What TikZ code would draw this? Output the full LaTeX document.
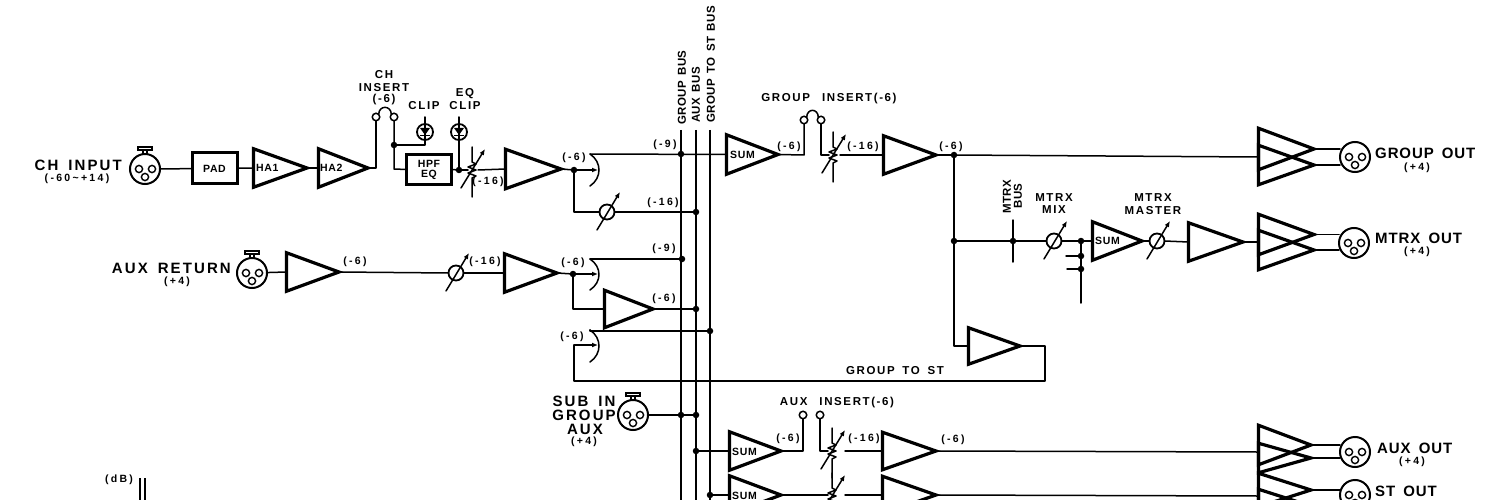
\documentclass[tikz,border=0pt]{standalone}
\usepackage{fontspec}
\setmainfont{Liberation Sans}[LetterSpace=14,WordSpace=1.6]
\usetikzlibrary{shapes.geometric,arrows.meta}
\newcommand\fa{\fontsize{15}{16}\selectfont\bfseries}
\newcommand\fo{\fontsize{15}{16}\selectfont\bfseries\addfontfeature{LetterSpace=6}}
\newcommand\fb{\fontsize{11.5}{12}\selectfont\bfseries}
\newcommand\fr{\fontsize{11.5}{12}\selectfont\bfseries\addfontfeature{LetterSpace=3}}
\newcommand\fc{\fontsize{10.5}{11}\selectfont\bfseries\addfontfeature{LetterSpace=22}}
\newcommand\fd{\fontsize{10.5}{11}\selectfont\bfseries\addfontfeature{LetterSpace=6}}
\tikzset{
 x=1pt,y=-1pt,
 wire/.style={line width=1.5pt,line cap=round,line join=round},
 bus/.style={line width=2pt},
 ampn/.style={draw,line width=3.2pt,isosceles triangle,isosceles triangle stretches,inner sep=0pt,outer sep=0pt,anchor=lower side,miter limit=6},
 boxn/.style={draw,line width=3pt,rectangle,inner sep=0pt,outer sep=0pt},
 jn/.style={circle,fill=black,inner sep=0pt,outer sep=0pt,minimum size=6.5pt},
 jackn/.style={circle,draw,line width=1.5pt,fill=white,inner sep=0pt,outer sep=0pt,minimum size=7.5pt},
 fadn/.style={circle,draw,line width=1.8pt,inner sep=0pt,outer sep=0pt,minimum size=15pt},
 xlrn/.style={circle,draw,line width=2pt,inner sep=0pt,outer sep=0pt,minimum size=30pt},
 ledn/.style={circle,draw,line width=1.8pt,inner sep=0pt,outer sep=0pt,minimum size=16pt},
 big/.style={font=\fa,inner sep=0pt,align=center},
 outlab/.style={font=\fo,inner sep=0pt,align=center},
 mid/.style={font=\fb,inner sep=0pt,align=center},
 rotlab/.style={font=\fr,inner sep=0pt,align=center,rotate=90},
 sml/.style={font=\fc,inner sep=0pt,align=center},
 tin/.style={font=\fd,inner sep=0pt,align=center},
 tipa/.style={-{Latex[length=6pt,width=5pt]}},
}
\newcommand\Amp[5]{\node[ampn,minimum height=#4pt-2.5pt,minimum width=#5pt-2.5pt] (#1) at ({#2+1.5},#3) {};}
\newcommand\Xlr[4]{\node[xlrn] (#1) at (#2,#3) {};
 \draw[line width=1.4pt] (#2-6,#3) circle (3.6) (#2+7,#3) circle (3.6) (#2,#3+8) circle (3.6);
 \ifnum#4=1
 \draw[line width=2pt] (#2-7,#3-22) rectangle (#2+7,#3-19) (#2-2,#3-19) -- (#2-2,#3-15) (#2+2,#3-19) -- (#2+2,#3-15);
 \fi}
\newcommand\Fad[3]{\node[fadn] (#1) at (#2,#3) {};
 \draw[wire,tipa] (#2-10,#3+18) -- (#2+13,#3-20);}
\newcommand\Zfad[3]{\coordinate (#1) at (#2,#3);
 \draw[wire] (#2,#3-23) -- (#2,#3-8) -- (#2+4,#3-6) -- (#2-4,#3-3) -- (#2+4,#3) -- (#2-4,#3+3) -- (#2+4,#3+6) -- (#2,#3+8) -- (#2,#3+27);
 \draw[wire,tipa] (#2-11,#3+18) -- (#2+13,#3-21);}
\newcommand\Led[3]{\node[ledn] (#1) at (#2,#3) {};
 \draw[wire] (#2,#3-15) -- (#2,#3+8);
 \fill (#2-5,#3-4) -- (#2+5,#3-4) -- (#2,#3+3) -- cycle;
 \draw[line width=1.8pt] (#2-5,#3+3.5) -- (#2+5,#3+3.5);}
\newcommand\Sw[4]{\coordinate (#1) at (#2,#3);
 \draw[wire] (#2,#3) .. controls (#2+12,#3+8) and (#2+12,#4-8) .. (#2,#4);}
\newcommand\Jn[3]{\node[jn] (#1) at (#2,#3) {};}
\newcommand\Pt[3]{\coordinate (#1) at (#2,#3);}
\newcommand\Jackpair[5]{\node[jackn] (#1) at (#3,#5) {}; \node[jackn] (#2) at (#4,#5) {};}
\begin{document}
\begin{tikzpicture}
\path[use as bounding box,clip] (0,0) rectangle (1500,500);
\fill[white] (0,0) rectangle (1500,500);

% ---------- buses
\Pt{b1t}{681}{130}\Pt{b1b}{681}{500}
\Pt{b2t}{696}{130}\Pt{b2b}{696}{500}
\Pt{b3t}{710}{130}\Pt{b3b}{710}{500}
\draw[bus] (b1t) -- (b1b) (b2t) -- (b2b) (b3t) -- (b3b);
\node[rotlab,anchor=west] (lbus1) at (682,125) {GROUP BUS};
\node[rotlab,anchor=west] (lbus2) at (696,123) {AUX BUS};
\node[rotlab,anchor=west] (lbus3) at (711,123) {GROUP TO ST BUS};

% ---------- CH strip
\Xlr{chx}{145}{169}{1}
\node[boxn,minimum width=45pt,minimum height=31pt] (pad) at (214.5,168.5) {};
\node[tin] (tpad) at (pad) {PAD};
\Amp{ha1}{252}{168}{56}{41}
\Amp{ha2}{317}{168}{52}{41}
\node[tin,anchor=west] (tha1) at (256,168) {HA1};
\node[tin,anchor=west] (tha2) at (320,168) {HA2};
\draw[wire] (chx) -- (pad);
\draw[wire] (pad) -- (ha1.lower side);
\draw[wire] (ha1.apex) -- (ha2.lower side);
\Jackpair{ji1}{ji2}{376}{394}{117}
\draw[wire] (ha2.apex) -- (376,168) -- (ji1.south);
\draw[wire] (ji1.north east) .. controls (379,105) and (391,105) .. (ji2.north west);
\node[boxn,minimum width=45pt,minimum height=30pt] (hpf) at (429,169.5) {};
\node[tin] (thpf) at (429,169.5) {HPF\\[-1pt]EQ};
\Jn{ji3}{394}{145}
\draw[wire] (ji2.south) -- (394,169) -- (hpf.west);
\Led{led1}{425}{132}
\draw[wire] (ji3.center) -- (425,145) -- (led1.south);
\Led{led2}{459}{132}
\Jn{eqd}{459}{170}
\draw[wire] (hpf.east) -- (eqd.center);
\draw[wire] (led2.south) -- (eqd.center);
\Zfad{f1}{472}{170}
\draw[wire] (eqd.center) -- (468,170);
\Amp{a1}{504}{169}{58}{42}
\draw[wire] (478,170) -- (a1.lower side);
\Jn{d1}{574}{170}
\draw[wire] (a1.apex) -- (d1.center);
\Sw{s1}{590}{154}{186}
\draw[wire,tipa] (d1.center) -- (598,170);
\Fad{f2}{607}{212}
\Jn{d2}{681}{154}
\Jn{d3}{696}{212}
\draw[wire] (d1.center) -- (574,212) -- (f2.west);
\draw[wire] (f2.east) -- (d3.center);
\Amp{sg}{725}{154.5}{54}{42}
\node[tin,anchor=west] (tsg) at (730,155) {SUM};
\draw[wire] (s1) -- (sg.lower side);

% ---------- group path
\Jackpair{jg1}{jg2}{804}{821}{120}
\draw[wire] (sg.apex) -- (804,155) -- (jg1.south);
\draw[wire] (jg1.north east) .. controls (807,108) and (818,108) .. (jg2.north west);
\Zfad{f3}{833}{155}
\draw[wire] (jg2.south) -- (821,155) -- (829,155);
\Amp{a3}{882}{155}{55}{41}
\draw[wire] (840,155) -- (a3.lower side);
\Jn{d4}{954}{155}
\draw[wire] (a3.apex) -- (d4.center);
\Pt{gin}{1257}{157}
\draw[wire] (d4.center) -- (gin);
\Jn{d5}{954}{241}
\draw[wire] (d4.center) -- (d5.center);

% ---------- outputs
\Amp{og1}{1257}{149}{58}{44}
\Amp{og2}{1257}{165}{58}{42}
\Xlr{ogx}{1355}{157}{0}
\draw[wire] (og1.apex) -- (ogx.west |- og1.apex);
\draw[wire] (og2.apex) -- (ogx.west |- og2.apex);
\Amp{om1}{1257}{234.5}{58}{43}
\Amp{om2}{1257}{250}{58}{42}
\Xlr{omx}{1354}{243}{0}
\draw[wire] (om1.apex) -- (omx.west |- om1.apex);
\draw[wire] (om2.apex) -- (omx.west |- om2.apex);
\Amp{oa1}{1257}{445}{55}{42}
\Amp{oa2}{1257}{458}{55}{32}
\Xlr{oax}{1355}{452}{0}
\draw[wire] (oa1.apex) -- (oax.west |- oa1.apex);
\draw[wire] (oa2.apex) -- (oax.west |- oa2.apex);
\Amp{os1}{1257}{490}{55}{36}
\Amp{os2}{1257}{506}{55}{36}
\Xlr{osx}{1355}{495}{0}
\draw[wire] (os1.apex) -- (osx.west |- os1.apex);
\draw[wire] (os2.apex) -- (osx.west |- os2.apex);

% ---------- matrix
\Jn{d6}{1013}{241}
\Pt{mt}{1013}{220}\Pt{mb}{1013}{262}
\draw[wire] (mt) -- (mb);
\Fad{f4}{1054}{241}
\draw[wire] (d5.center) -- (f4.west);
\Jn{d7}{1081}{241}
\draw[wire] (f4.east) -- (d7.center);
\Amp{sm}{1091}{241}{52}{41}
\node[tin,anchor=west] (tsm) at (1095,241) {SUM};
\draw[wire] (d7.center) -- (sm.lower side);
\Jn{d8}{1081}{256}\Jn{d9}{1081}{269}
\Pt{mb2}{1081}{303}\Pt{st1}{1066}{256}\Pt{st2}{1067}{269}
\draw[wire] (d7.center) -- (mb2);
\draw[wire] (st1) -- (d8.center);
\draw[wire] (st2) -- (d9.center);
\Fad{f5}{1157}{241}
\draw[wire] (sm.apex) -- (f5.west);
\Amp{a5}{1187}{242}{57}{41}
\draw[wire] (f5.east) -- (a5.lower side);
\Pt{min}{1257}{242}
\draw[wire] (a5.apex) -- (min);

% ---------- group to st
\Amp{a6}{967}{346}{54}{39}
\draw[wire] (d5.center) -- (954,346) -- (a6.lower side);
\Sw{s4}{590}{330}{362}
\Jn{d10}{710}{331}
\draw[wire] (s4) -- (590,331) -- (d10.center);
\draw[wire] (a6.apex) -- (1045,346) -- (1045,381) -- (574,381) -- (574,345);
\Pt{s4m}{598}{345}
\draw[wire,tipa] (574,345) -- (s4m);

% ---------- aux return
\Xlr{arx}{252}{273}{1}
\Amp{a7}{285}{272}{55}{41}
\draw[wire] (arx) -- (a7.lower side);
\Fad{f7}{456}{273}
\draw[wire] (a7.apex) -- (f7.west);
\Amp{a8}{503}{273}{55}{41}
\draw[wire] (f7.east) -- (a8.lower side);
\Jn{d11}{573}{274}
\draw[wire] (a8.apex) -- (d11.center);
\Sw{s2}{590}{259}{290}
\Pt{s2m}{598}{274}
\draw[wire,tipa] (d11.center) -- (s2m);
\Jn{d12}{682}{259}
\draw[wire] (s2) -- (d12.center);
\Amp{a9}{603}{309}{51}{40}
\draw[wire] (d11.center) -- (573,309) -- (a9.lower side);
\Jn{d13}{696}{309}
\draw[wire] (a9.apex) -- (d13.center);

% ---------- sub in
\Xlr{sbx}{633}{415}{1}
\Jn{d14}{681}{415}\Jn{d15}{696}{415}
\draw[wire] (sbx) -- (d15.center);

% ---------- aux strip
\Jn{d16}{696}{451}
\Amp{sa}{728}{451}{54}{41}
\node[tin,anchor=west] (tsa) at (732,452) {SUM};
\draw[wire] (d16.center) -- (sa.lower side);
\Jackpair{ja1}{ja2}{803}{820}{415}
\draw[wire] (sa.apex) -- (803,451) -- (ja1.south);
\Zfad{f8}{832}{451}
\draw[wire] (ja2.south) -- (820,451) -- (828,451);
\Amp{a10}{881}{451}{56}{40}
\draw[wire] (845,451) -- (a10.lower side);
\Pt{ain}{1257}{452}
\draw[wire] (a10.apex) -- (ain);

% ---------- st strip
\Jn{d17}{710}{495}
\Amp{ss}{728}{495}{54}{41}
\node[tin,anchor=west] (tss) at (732,496) {SUM};
\draw[wire] (d17.center) -- (ss.lower side);
\Zfad{f9}{832}{496}
\draw[wire] (ss.apex) -- (828,495);
\Amp{a11}{881}{495}{56}{40}
\draw[wire] (845,495) -- (a11.lower side);
\Pt{sin}{1257}{496}
\draw[wire] (a11.apex) -- (sin);

% ---------- dB stub
\Pt{db1t}{140}{478}\Pt{db1b}{140}{500}\Pt{db2t}{145}{478}\Pt{db2b}{145}{500}
\draw[bus] (db1t) -- (db1b) (db2t) -- (db2b);
\node[sml] (tdb) at (119,480) {(dB)};

% ---------- labels
\node[big,anchor=east] (tch) at (122,165) {CH INPUT};
\node[sml] (tch2) at (77,179) {(-60\textasciitilde+14)};
\node[big,anchor=east] (tar) at (231,268) {AUX RETURN};
\node[sml] (tar2) at (177,282) {(+4)};
\node[mid] (tins1) at (384,75) {CH};
\node[mid] (tins2) at (384,88) {INSERT};
\node[mid] (tins3) at (384,100) {(-6)};
\node[mid] (tclip) at (424,106) {CLIP};
\node[mid] (teq1) at (465,94) {EQ};
\node[mid] (teq2) at (465,106) {CLIP};
\node[sml] (v1) at (574,158) {(-6)};
\node[sml] (v2) at (665,145) {(-9)};
\node[sml] (v3) at (663,203) {(-16)};
\node[sml] (v4) at (488,182) {(-16)};
\node[sml] (v5) at (789,147) {(-6)};
\node[sml] (v6) at (863,147) {(-16)};
\node[sml] (v7) at (951,147) {(-6)};
\node[sml] (v8) at (355,262) {(-6)};
\node[sml] (v9) at (485,262) {(-16)};
\node[sml] (v10) at (573,263) {(-6)};
\node[sml] (v11) at (664,249) {(-9)};
\node[sml] (v12) at (664,299) {(-6)};
\node[sml] (v13) at (572,337) {(-6)};
\node[sml] (v14) at (788,439) {(-6)};
\node[sml] (v15) at (864,439) {(-16)};
\node[sml] (v16) at (953,440) {(-6)};
\node[mid] (tgi) at (829,99) {GROUP\hspace{12pt}INSERT(-6)};
\node[mid] (tai) at (837,403) {AUX\hspace{12pt}INSERT(-6)};
\node[mid] (tgs) at (895,371) {GROUP TO ST};
\node[rotlab] (tmb1) at (1007,197) {MTRX};
\node[rotlab] (tmb2) at (1018,196) {BUS};
\node[mid] (tmm1) at (1054,198) {MTRX};
\node[mid] (tmm2) at (1054,210) {MIX};
\node[mid] (tms1) at (1153,198) {MTRX};
\node[mid] (tms2) at (1153,211) {MASTER};
\node[outlab,anchor=west] (tgo) at (1375,153) {GROUP OUT};
\node[sml] (tgo2) at (1417,168) {(+4)};
\node[outlab,anchor=west] (tmo) at (1375,238) {MTRX OUT};
\node[sml] (tmo2) at (1417,252) {(+4)};
\node[outlab,anchor=west] (tao) at (1377,448) {AUX OUT};
\node[sml] (tao2) at (1412,462) {(+4)};
\node[outlab,anchor=west] (tso) at (1375,491) {ST OUT};
\node[big] (ts1) at (584,401) {SUB IN};
\node[big] (ts2) at (584,415) {GROUP};
\node[big] (ts3) at (585,429) {AUX};
\node[sml] (ts4) at (584,442) {(+4)};
\end{tikzpicture}
\end{document}
